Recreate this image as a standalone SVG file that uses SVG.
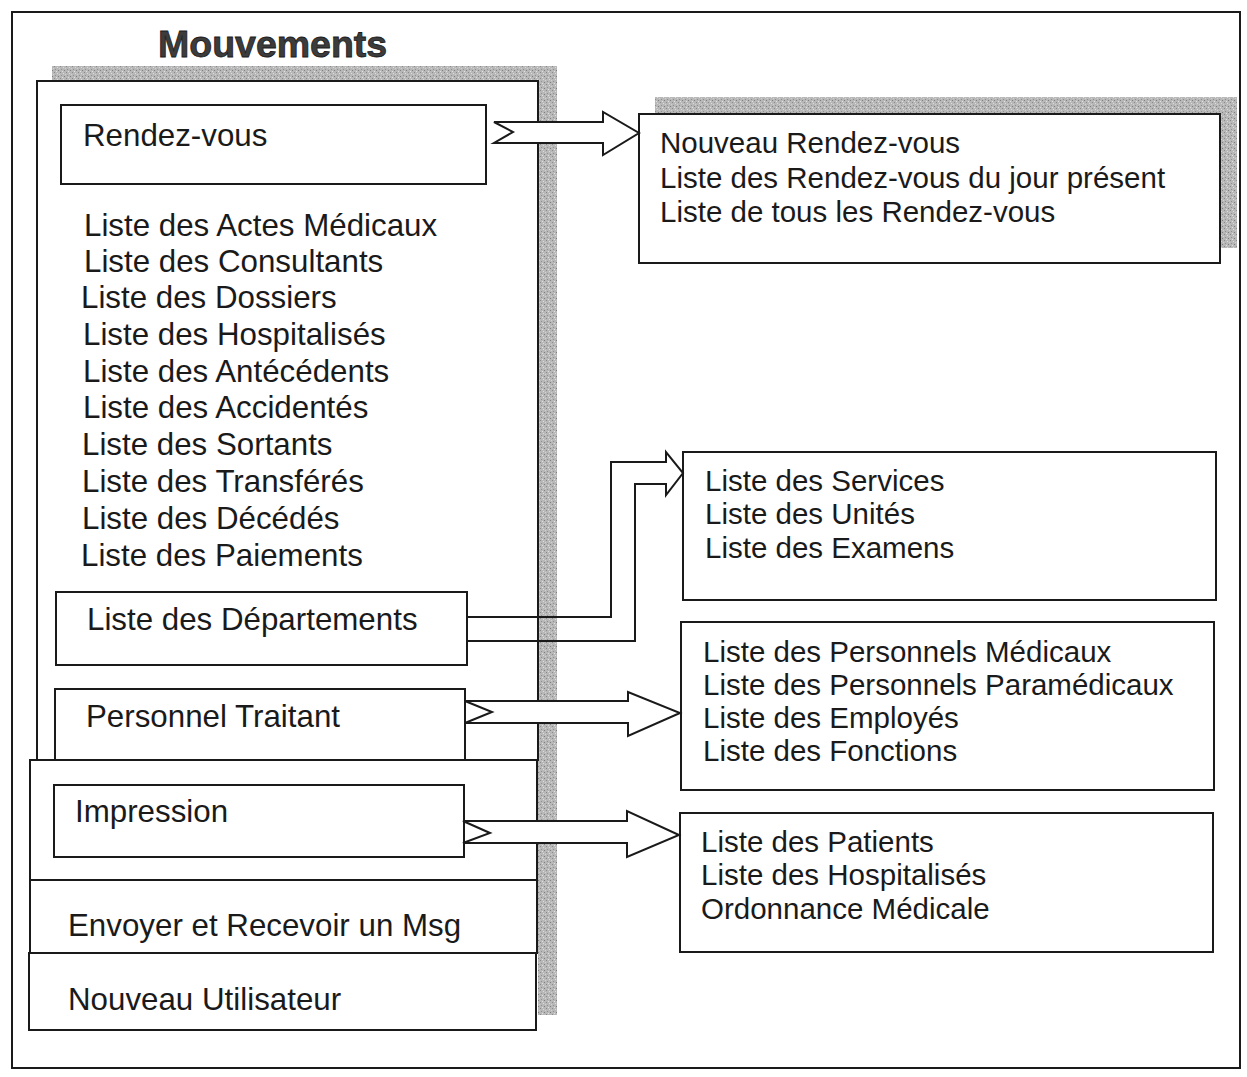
<svg xmlns="http://www.w3.org/2000/svg" width="1247" height="1077" viewBox="0 0 1247 1077">
  <defs>
    <!-- stippled grey used for drop shadows -->
    <pattern id="stipple" width="6" height="6" patternUnits="userSpaceOnUse">
      <rect width="6" height="6" fill="#b8b8b8"/>
      <rect x="0" y="0" width="1" height="1" fill="#8a8a8a"/>
      <rect x="3" y="1" width="1" height="1" fill="#dcdcdc"/>
      <rect x="1" y="3" width="1" height="1" fill="#909090"/>
      <rect x="4" y="4" width="1" height="1" fill="#7e7e7e"/>
      <rect x="5" y="2" width="1" height="1" fill="#d2d2d2"/>
      <rect x="2" y="5" width="1" height="1" fill="#e2e2e2"/>
    </pattern>
    <style>
      .box { fill: #ffffff; stroke: #1a1a1a; stroke-width: 2; }
      .line { fill: none; stroke: #1a1a1a; stroke-width: 2; }
      .shadow { fill: url(#stipple); }
      .arrow { fill: #ffffff; stroke: #1a1a1a; stroke-width: 2; stroke-linejoin: miter; }
      .t { font-family: "Liberation Sans", Arial, sans-serif; font-size: 31.3px; fill: #1a1a1a; }
      .r { font-family: "Liberation Sans", Arial, sans-serif; font-size: 29.5px; fill: #1a1a1a; }
      .title { font-family: "Liberation Sans", Arial, sans-serif; font-size: 37.5px; font-weight: bold; fill: #3c3c3c; stroke: #1a1a1a; stroke-width: 0.8; }
    </style>
  </defs>

  <rect width="1247" height="1077" fill="#ffffff"/>

  <!-- outer frame -->
  <rect id="frame" x="12" y="12" width="1228" height="1056" class="line"/>

  <!-- menu panel -->
  <g id="menu">
    <text class="title" x="158" y="57">Mouvements</text>
    <rect class="shadow" x="52" y="66" width="505" height="15"/>
    <rect class="shadow" x="538" y="66" width="19" height="949"/>
    <rect class="box" x="37" y="81" width="501" height="679"/>
    <rect class="box" x="30" y="760" width="507" height="120"/>
    <rect class="box" x="30" y="880" width="507" height="73"/>
    <rect class="box" x="29" y="953" width="507" height="77"/>
  </g>

  <g id="rendez-vous">
    <rect class="box" x="61" y="105" width="425" height="79"/>
    <text class="t" x="83" y="146">Rendez-vous</text>
  </g>

  <g id="listes">
    <text class="t" x="84" y="236">Liste des Actes Médicaux</text>
    <text class="t" x="84" y="272">Liste des Consultants</text>
    <text class="t" x="81" y="308">Liste des Dossiers</text>
    <text class="t" x="83" y="345">Liste des Hospitalisés</text>
    <text class="t" x="83" y="382">Liste des Antécédents</text>
    <text class="t" x="83" y="418">Liste des Accidentés</text>
    <text class="t" x="82" y="455">Liste des Sortants</text>
    <text class="t" x="82" y="492">Liste des Transférés</text>
    <text class="t" x="82" y="529">Liste des Décédés</text>
    <text class="t" x="81" y="566">Liste des Paiements</text>
  </g>

  <g id="departements">
    <rect class="box" x="56" y="592" width="411" height="73"/>
    <text class="t" x="87" y="630">Liste des Départements</text>
  </g>

  <g id="personnel">
    <rect class="box" x="55" y="689" width="410" height="71"/>
    <text class="t" x="86" y="727">Personnel Traitant</text>
  </g>

  <g id="impression">
    <rect class="box" x="54" y="785" width="410" height="72"/>
    <text class="t" x="75" y="822">Impression</text>
  </g>

  <g id="messages">
    <text class="t" x="68" y="936">Envoyer et Recevoir un Msg</text>
  </g>

  <g id="utilisateur">
    <text class="t" x="68" y="1010">Nouveau Utilisateur</text>
  </g>

  <!-- sub-menus -->
  <g id="sous-rendez-vous">
    <rect class="shadow" x="655" y="97" width="582" height="151"/>
    <rect class="box" x="639" y="114" width="581" height="149"/>
    <text class="r" x="660" y="153">Nouveau Rendez-vous</text>
    <text class="r" x="660" y="188">Liste des Rendez-vous du jour présent</text>
    <text class="r" x="660" y="222">Liste de tous les Rendez-vous</text>
  </g>

  <g id="sous-departements">
    <rect class="box" x="683" y="452" width="533" height="148"/>
    <text class="r" x="705" y="491">Liste des Services</text>
    <text class="r" x="705" y="524">Liste des Unités</text>
    <text class="r" x="705" y="558">Liste des Examens</text>
  </g>

  <g id="sous-personnel">
    <rect class="box" x="681" y="622" width="533" height="168"/>
    <text class="r" x="703" y="662">Liste des Personnels Médicaux</text>
    <text class="r" x="703" y="695">Liste des Personnels Paramédicaux</text>
    <text class="r" x="703" y="728">Liste des Employés</text>
    <text class="r" x="703" y="761">Liste des Fonctions</text>
  </g>

  <g id="sous-impression">
    <rect class="box" x="680" y="813" width="533" height="139"/>
    <text class="r" x="701" y="852">Liste des Patients</text>
    <text class="r" x="701" y="885">Liste des Hospitalisés</text>
    <text class="r" x="701" y="919">Ordonnance Médicale</text>
  </g>

  <!-- connectors: notched block arrows -->
  <g id="connectors">
    <polygon class="arrow" points="494,122 603,122 603,112 639,133 603,155 603,143 494,143 513,132"/>
    <path class="line" d="M466,617 H611 V462 H666 V452 L683,473 L666,495 V484 H635 V641 H466"/>
    <polygon class="arrow" points="465,701 628,701 628,692 680,713 628,736 628,723 465,723 492,712"/>
    <polygon class="arrow" points="463,821 627,821 627,811 679,835 627,857 627,843 463,843 490,833"/>
  </g>
</svg>
